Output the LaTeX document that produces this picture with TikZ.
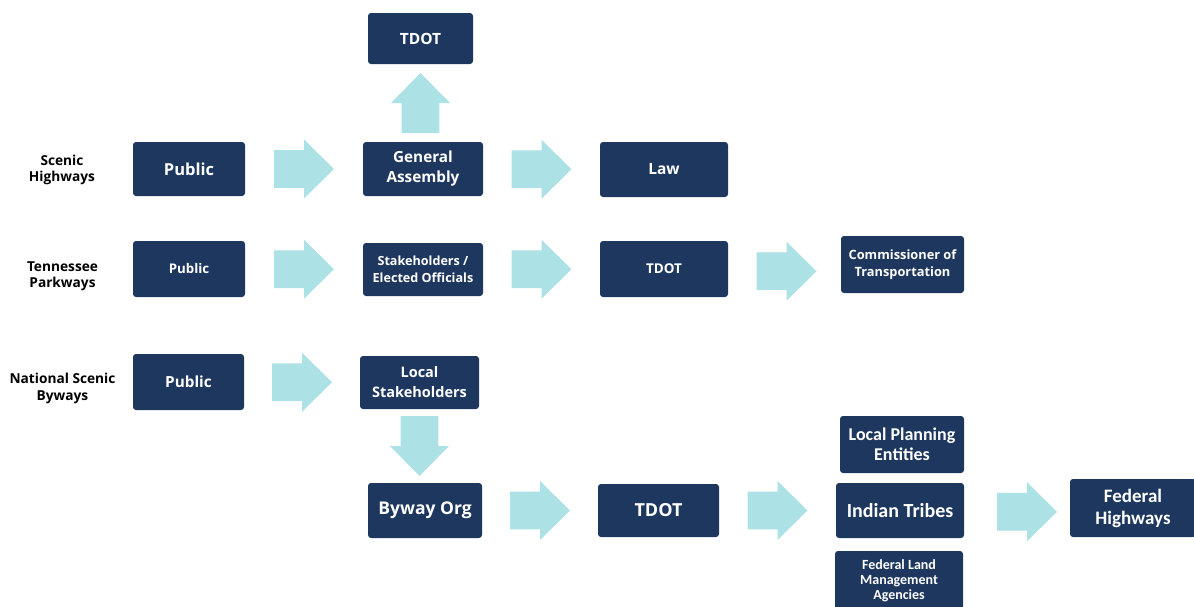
\documentclass[tikz,border=0pt]{standalone}
\usepackage{fontspec}
\setmainfont{Open Sans}
\newfontfamily\calib{Carlito}
\usetikzlibrary{calc}
\definecolor{navy}{RGB}{30,55,95}
\definecolor{arrowc}{RGB}{172,225,229}
\newcommand\fs[2]{\fontsize{#1}{#2}\selectfont}
\tikzset{
  box/.style={fill=navy, rounded corners=3pt, text=white, align=center, inner sep=0pt, font=\bfseries},
  lbl/.style={text=black, align=center, inner sep=0pt, font=\bfseries\fs{13.7}{16.5}},
  fatarrow/.pic={\fill[arrowc] (-30,-18.8)--(0,-18.8)--(0,-29.5)--(30,0)--(0,29.5)--(0,18.8)--(-30,18.8)--cycle;}
}
\begin{document}
\begin{tikzpicture}[x=1pt,y=-1pt]
\useasboundingbox (0,0) rectangle (1194,606);
% left labels
\node[lbl] (l1) at (62,170) {Scenic\\Highways};
\node[lbl] (l2) at (62.5,276) {Tennessee\\Parkways};
\node[lbl] (l3) at (62.5,388.5) {National Scenic\\Byways};
% row 0
\node[box, minimum width=105, minimum height=51, font=\bfseries\fs{15.5}{19}] (tdot0) at (420.5,38.5) {TDOT};
% row 1
\node[box, minimum width=112, minimum height=54, font=\bfseries\fs{16.5}{20}] (pub1) at (189,169) {Public};
\node[box, minimum width=120, minimum height=54, font=\bfseries\fs{15.3}{20}] (ga) at (423,169) {General\\Assembly};
\node[box, minimum width=128, minimum height=55, font=\bfseries\fs{15.5}{19}] (law) at (664,169.5) {Law};
% row 2
\node[box, minimum width=112, minimum height=56, font=\bfseries\fs{13.3}{17}] (pub2) at (189,269) {Public};
\node[box, minimum width=120, minimum height=53, font=\bfseries\fs{12.6}{17}] (stake) at (423,269.5) {Stakeholders /\\Elected Officials};
\node[box, minimum width=128, minimum height=56, font=\bfseries\fs{13.5}{17}] (tdot2) at (664,269) {TDOT};
\node[box, minimum width=123, minimum height=57, font=\bfseries\fs{12.8}{17}] (comm) at (902.5,264.5) {Commissioner of\\Transportation};
% row 3
\node[box, minimum width=111, minimum height=56, font=\bfseries\fs{15.3}{19}] (pub3) at (188.5,382) {Public};
\node[box, minimum width=119, minimum height=53, font=\bfseries\fs{14.5}{20}] (local) at (419.5,382.5) {Local\\Stakeholders};
% row 4
\node[box, minimum width=114, minimum height=55, font=\bfseries\fs{17.5}{21}] (byway) at (425,510.5) {Byway Org};
\node[box, minimum width=121, minimum height=53, font=\bfseries\fs{18}{21}] (tdot3) at (658.5,510.5) {TDOT};
\node[box, minimum width=124, minimum height=57, font=\calib\bfseries\fs{18}{20}] (lpe) at (902,444.5) {Local Planning\\Entities};
\node[box, minimum width=128, minimum height=55, font=\calib\bfseries\fs{20}{22}] (tribes) at (900,510.5) {Indian Tribes};
\node[box, minimum width=128, minimum height=59, font=\calib\bfseries\fs{14}{15}] (fedland) at (899,580.5) {Federal Land\\Management\\Agencies};
\node[box, minimum width=126, minimum height=58, font=\calib\bfseries\fs{19}{22}] (fedhw) at (1133,508) {Federal\\Highways};
% block arrows
\pic at ($(pub1.east)!0.5!(ga.west)$) {fatarrow};
\pic at ($(ga.east)!0.5!(law.west)$) {fatarrow};
\pic[rotate=90] at ($(tdot0.south)!0.5!(tdot0.south|-ga.north)$) {fatarrow};
\pic at ($(pub2.east)!0.5!(stake.west)$) {fatarrow};
\pic at ($(stake.east)!0.5!(tdot2.west)$) {fatarrow};
\pic at ($(tdot2.east)!0.5!(comm.west)+(2,4.5)$) {fatarrow};
\pic at ($(pub3.east)!0.5!(local.west)$) {fatarrow};
\pic[rotate=-90] at ($(local.south)!0.5!(local.south|-byway.north)$) {fatarrow};
\pic at ($(byway.east)!0.5!(tdot3.west)$) {fatarrow};
\pic at ($(tdot3.east)!0.5!(tribes.west)$) {fatarrow};
\pic at ($(tribes.east)!0.5!(fedhw.west)+(10,2.5)$) {fatarrow};
\end{tikzpicture}
\end{document}
